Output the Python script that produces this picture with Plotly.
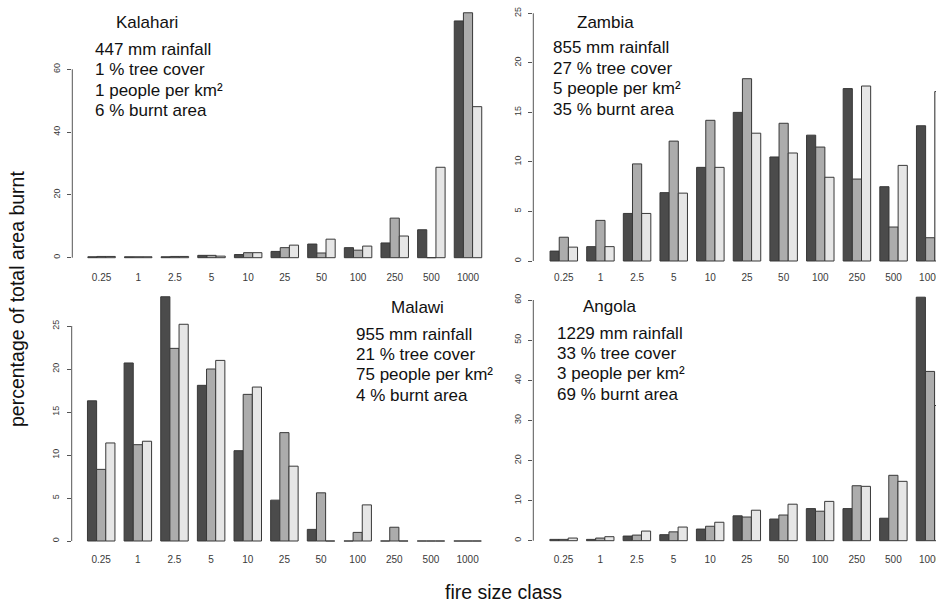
import plotly.graph_objects as go

# fire size classes (km²)
size_classes = ["0.25", "1", "2.5", "5", "10", "25", "50", "100", "250", "500", "1000"]

# percentage of total area burnt per size class, three series per region
kalahari_dark = [0.3, 0.3, 0.3, 0.75, 1.0, 2.0, 4.35, 3.2, 4.7, 8.9, 75.4]
kalahari_mid = [0.4, 0.3, 0.4, 0.75, 1.6, 3.2, 1.5, 2.4, 12.6, 0.0, 78.0]
kalahari_light = [0.4, 0.3, 0.4, 0.5, 1.6, 4.0, 5.9, 3.7, 6.9, 28.8, 48.1]

zambia_dark = [1.0, 1.45, 4.8, 6.9, 9.45, 15.0, 10.5, 12.7, 17.4, 7.5, 13.65]
zambia_mid = [2.4, 4.1, 9.8, 12.1, 14.2, 18.4, 13.9, 11.5, 8.27, 3.43, 2.35]
zambia_light = [1.4, 1.45, 4.8, 6.85, 9.45, 12.9, 10.9, 8.45, 17.66, 9.65, 17.1]

malawi_dark = [16.3, 20.7, 28.4, 18.1, 10.5, 4.75, 1.35, 0.0, 0.0, 0.0, 0.0]
malawi_mid = [8.33, 11.2, 22.4, 20.0, 17.05, 12.6, 5.6, 1.0, 1.6, 0.0, 0.0]
malawi_light = [11.4, 11.6, 25.2, 21.0, 17.9, 8.7, 0.0, 4.2, 0.0, 0.0, 0.0]

angola_dark = [0.33, 0.33, 1.16, 1.5, 2.9, 6.2, 5.4, 8.0, 8.0, 5.6, 60.7]
angola_mid = [0.33, 0.66, 1.4, 2.2, 3.6, 5.9, 6.4, 7.35, 13.7, 16.3, 42.2]
angola_light = [0.66, 1.0, 2.4, 3.4, 4.6, 7.6, 9.1, 9.8, 13.55, 14.8, 33.7]

# region descriptors
kalahari_info = ["447 mm rainfall", "1 % tree cover", "1 people per km²", "6 % burnt area"]
zambia_info = ["855 mm rainfall", "27 % tree cover", "5 people per km²", "35 % burnt area"]
malawi_info = ["955 mm rainfall", "21 % tree cover", "75 people per km²", "4 % burnt area"]
angola_info = ["1229 mm rainfall", "33 % tree cover", "3 people per km²", "69 % burnt area"]

kalahari_ticks = [0, 20, 40, 60]
zambia_ticks = [0, 5, 10, 15, 20, 25]
malawi_ticks = [0, 5, 10, 15, 20, 25]
angola_ticks = [0, 10, 20, 30, 40, 50, 60]

W, H = 936, 602
FILLS = ["#4b4b4b", "#acacac", "#e6e6e6"]
EDGE = "#383838"
FONT = "Liberation Sans, Arial, sans-serif"

panels = [
    dict(name="Kalahari", series=[kalahari_dark, kalahari_mid, kalahari_light], ticks=kalahari_ticks,
         info=kalahari_info, xpx=(72.3, 497.3), c0=101.6, ypx=(3, 270), base=257.7, ppu=188.4 / 60,
         title=(147.3, 23), text_x=93, text_y=[49.5, 70, 90.3, 110.6]),
    dict(name="Zambia", series=[zambia_dark, zambia_mid, zambia_light], ticks=zambia_ticks,
         info=zambia_info, xpx=(533.3, 936.0), c0=563.8, ypx=(3, 270), base=261.0, ppu=247.7 / 25,
         title=(605, 22), text_x=551, text_y=[48, 68.3, 88.6, 109]),
    dict(name="Malawi", series=[malawi_dark, malawi_mid, malawi_light], ticks=malawi_ticks,
         info=malawi_info, xpx=(71.7, 496.7), c0=101.2, ypx=(287, 552), base=541.0, ppu=215.0 / 25,
         title=(417, 307), text_x=354, text_y=[334, 354.3, 374.6, 395]),
    dict(name="Angola", series=[angola_dark, angola_mid, angola_light], ticks=angola_ticks,
         info=angola_info, xpx=(533.3, 936.0), c0=563.6, ypx=(287, 552), base=540.7, ppu=240.7 / 60,
         title=(609, 306), text_x=555, text_y=[333, 353.3, 373.6, 394]),
]

SPACING = 36.64  # pixels between neighbouring size-class groups

fig = go.Figure()
annotations = []
shapes = []

for k, p in enumerate(panels, start=1):
    xa = "x" if k == 1 else f"x{k}"
    ya = "y" if k == 1 else f"y{k}"
    for vals, col in zip(p["series"], FILLS):
        fig.add_trace(go.Bar(
            x=size_classes, y=vals, xaxis=xa, yaxis=ya, showlegend=False,
            marker=dict(color=col, line=dict(color=EDGE, width=1)),
            hoverinfo="y",
        ))
    x0px, x1px = p["xpx"]
    y0px, y1px = p["ypx"]
    xr = [(x0px - p["c0"]) / SPACING, (x1px - p["c0"]) / SPACING]
    yr = [-(y1px - p["base"]) / p["ppu"], (p["base"] - y0px) / p["ppu"]]
    xkey = "xaxis" if k == 1 else f"xaxis{k}"
    ykey = "yaxis" if k == 1 else f"yaxis{k}"
    fig.update_layout(**{
        xkey: dict(domain=[x0px / W, x1px / W], range=xr, type="category", anchor=ya,
                   automargin=False,
                   showgrid=False, zeroline=False, showline=False, ticks="",
                   tickfont=dict(family=FONT, size=10, color="#3a3a3a"), fixedrange=True),
        ykey: dict(domain=[1 - y1px / H, 1 - y0px / H], range=yr, anchor=xa,
                   automargin=False,
                   tickvals=p["ticks"], ticktext=[str(t) for t in p["ticks"]],
                   tickangle=-90, ticks="outside", ticklen=4, tickcolor="#555555",
                   tickwidth=1, showgrid=False, zeroline=False, showline=False,
                   ticklabelstandoff=4,
                   tickfont=dict(family=FONT, size=9, color="#3a3a3a"), fixedrange=True),
    })
    # vertical axis line spanning the labelled tick range
    shapes.append(dict(type="line", xref=f"{xa} domain", yref=ya, x0=0, x1=0,
                       y0=p["ticks"][0], y1=p["ticks"][-1],
                       line=dict(color="#555555", width=1)))
    annotations.append(dict(text=p["name"], xref="paper", yref="paper",
                            x=p["title"][0] / W, y=1 - p["title"][1] / H,
                            xanchor="center", yanchor="middle", showarrow=False,
                            font=dict(family=FONT, size=17, color="#111111")))
    for line, ty in zip(p["info"], p["text_y"]):
        annotations.append(dict(text=line, xref="paper", yref="paper",
                                x=p["text_x"] / W, y=1 - ty / H,
                                xanchor="left", yanchor="middle", showarrow=False,
                                font=dict(family=FONT, size=17, color="#111111")))

annotations.append(dict(text="percentage of total area burnt", xref="paper", yref="paper",
                        x=17 / W, y=1 - 299 / H, textangle=-90, showarrow=False,
                        xanchor="center", yanchor="middle",
                        font=dict(family=FONT, size=19.5, color="#111111")))
annotations.append(dict(text="fire size class", xref="paper", yref="paper",
                        x=503 / W, y=1 - 592 / H, showarrow=False,
                        xanchor="center", yanchor="middle",
                        font=dict(family=FONT, size=19.5, color="#111111")))

fig.update_layout(
    width=W, height=H, margin=dict(l=0, r=0, t=0, b=0, autoexpand=False),
    paper_bgcolor="white", plot_bgcolor="white",
    barmode="group", bargap=0.25, bargroupgap=0,
    annotations=annotations, shapes=shapes,
    font=dict(family=FONT),
)

# keep labels that run past the right edge inside the figure box
fig.write_html(
    "out.html",
    config={"displayModeBar": False},
    post_script="var gd=document.getElementById('{plot_id}');gd.style.overflow='hidden';"
                "document.documentElement.style.overflow='hidden';document.body.style.overflow='hidden';",
)
